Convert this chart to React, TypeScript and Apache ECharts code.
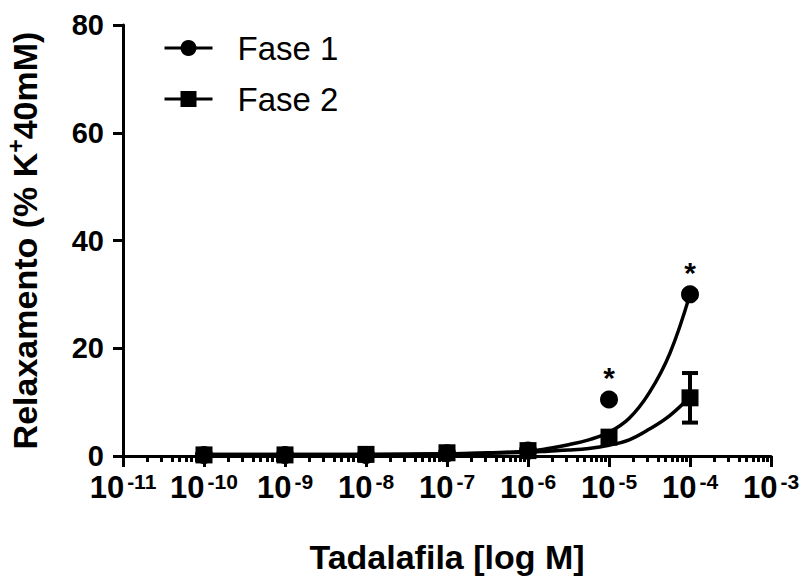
import React, { useEffect, useRef } from "react";
import * as echarts from "echarts";

// log10 of Tadalafila concentration (M)
const doses = [-10, -9, -8, -7, -6, -5, -4];
const fase1Mean = [0.2, 0.2, 0.2, 0.5, 1.0, 10.5, 30.0];
const fase1Sem = [0.2, 0.2, 0.2, 0.3, 0.4, 0.5, 0.5];
const fase2Mean = [0.2, 0.2, 0.3, 0.6, 1.0, 3.5, 10.8];
const fase2Sem = [0.2, 0.2, 0.2, 0.3, 0.4, 0.8, 4.6];
const fase1Stars = [false, false, false, false, false, true, true];

// fitted curves
const curveX = [-10, -9, -8, -7, -6.5, -6, -5.75, -5.5, -5.25, -5, -4.75, -4.5, -4.25, -4];
const fase1Curve = [0.3, 0.3, 0.3, 0.4, 0.6, 0.9, 1.4, 2.1, 3.0, 4.4, 7.0, 11.8, 19.0, 30.0];
const fase2Curve = [0.3, 0.3, 0.3, 0.4, 0.5, 0.7, 0.9, 1.1, 1.4, 2.0, 3.0, 5.0, 7.5, 11.0];

const xMin = -11;
const xMax = -3;
const yTicks = [0, 20, 40, 60, 80];

const minorTicks: number[] = [];
for (let d = xMin; d < xMax; d++) {
  for (let k = 2; k <= 9; k++) minorTicks.push(d + Math.log10(k));
}

const FONT = "Liberation Sans, Arial, sans-serif";

export default function App() {
  const ref = useRef<HTMLDivElement>(null);
  useEffect(() => {
    if (!ref.current) return;
    const chart = echarts.init(ref.current, undefined, { renderer: "svg" });

    const errData = (means: number[], sems: number[]) =>
      doses.map((d, i) => [d, means[i] - sems[i], means[i] + sems[i]]);

    const errRender = (params: any, api: any) => {
      const x = api.value(0);
      const lo = api.coord([x, api.value(1)]);
      const hi = api.coord([x, api.value(2)]);
      const cap = 8;
      const style = { stroke: "#000", lineWidth: 4 };
      return {
        type: "group",
        children: [
          { type: "line", shape: { x1: lo[0], y1: lo[1], x2: hi[0], y2: hi[1] }, style },
          { type: "line", shape: { x1: lo[0] - cap, y1: lo[1], x2: lo[0] + cap, y2: lo[1] }, style },
          { type: "line", shape: { x1: hi[0] - cap, y1: hi[1], x2: hi[0] + cap, y2: hi[1] }, style },
        ],
      };
    };

    chart.setOption({
      animation: false,
      textStyle: { fontFamily: FONT, color: "#000" },
      grid: { left: 123, right: 32, top: 25, bottom: 129, containLabel: false, outerBoundsMode: "none" },
      legend: {
        orient: "vertical",
        left: 158,
        top: 26,
        data: ["Fase 1", "Fase 2"],
        itemWidth: 48,
        itemHeight: 20,
        itemGap: 17,
        lineStyle: { width: 3, color: "#000", opacity: 1 },
        textStyle: { fontFamily: FONT, fontSize: 33, color: "#000", padding: [0, 0, 0, 20], lineHeight: 34 },
      },
      xAxis: [
        {
          type: "value",
          min: xMin,
          max: xMax,
          interval: 1,
          name: "Tadalafila [log M]",
          nameLocation: "middle",
          nameGap: 84,
          nameTextStyle: { fontFamily: FONT, fontSize: 34, fontWeight: "bold", color: "#000" },
          axisLine: { show: true, onZero: false, lineStyle: { color: "#000", width: 3 } },
          axisTick: { show: true, length: 11, lineStyle: { color: "#000", width: 3 } },
          splitLine: { show: false },
          axisLabel: {
            margin: 15,
            formatter: (v: number) => `{b|10}{s|${v}}`,
            rich: {
              b: { fontFamily: FONT, fontSize: 31, fontWeight: "bold", color: "#000", lineHeight: 32 },
              s: { fontFamily: FONT, fontSize: 21, fontWeight: "bold", color: "#000", verticalAlign: "top", lineHeight: 32, padding: [0, 0, 12, 3] },
            },
          },
        },
        {
          type: "value",
          min: xMin,
          max: xMax,
          position: "bottom",
          axisLine: { show: false },
          axisLabel: { show: false },
          splitLine: { show: false },
          axisTick: { show: true, length: 6, customValues: minorTicks, lineStyle: { color: "#000", width: 3 } },
        },
      ],
      yAxis: {
        type: "value",
        min: 0,
        max: 80,
        interval: 20,
        name: "{b|Relaxamento (% K}{s|+}{b|40mM)}",
        nameLocation: "middle",
        nameGap: 78,
        nameRotate: 90,
        nameTextStyle: {
          rich: {
            b: { fontFamily: FONT, fontSize: 34, fontWeight: "bold", color: "#000" },
            s: { fontFamily: FONT, fontSize: 23, fontWeight: "bold", color: "#000", padding: [0, 0, 18, 0] },
          },
        },
        axisLine: { show: true, lineStyle: { color: "#000", width: 3 } },
        axisTick: { show: true, length: 10, lineStyle: { color: "#000", width: 3 } },
        splitLine: { show: false },
        axisLabel: {
          margin: 19,
          fontFamily: FONT,
          fontSize: 29,
          fontWeight: "bold",
          color: "#000",
          customValues: yTicks,
        },
      },
      series: [
        {
          name: "Fase 1 fit",
          type: "line",
          smooth: 0.4,
          showSymbol: false,
          data: curveX.map((x, i) => [x, fase1Curve[i]]),
          lineStyle: { color: "#000", width: 3.5 },
          z: 2,
        },
        {
          name: "Fase 2 fit",
          type: "line",
          smooth: 0.4,
          showSymbol: false,
          data: curveX.map((x, i) => [x, fase2Curve[i]]),
          lineStyle: { color: "#000", width: 3.5 },
          z: 2,
        },
        {
          name: "Fase 1 err",
          type: "custom",
          renderItem: errRender,
          data: errData(fase1Mean, fase1Sem),
          z: 3,
        },
        {
          name: "Fase 2 err",
          type: "custom",
          renderItem: errRender,
          data: errData(fase2Mean, fase2Sem),
          z: 3,
        },
        {
          name: "Fase 1",
          type: "line",
          symbol: "circle",
          symbolSize: 18,
          itemStyle: { color: "#000" },
          lineStyle: { width: 0, color: "#000" },
          data: doses.map((d, i) => ({
            value: [d, fase1Mean[i]],
            label: fase1Stars[i]
              ? { show: true, formatter: "*", position: "top", distance: -2, fontFamily: FONT, fontSize: 30, fontWeight: "bold", color: "#000" }
              : { show: false },
          })),
          z: 4,
        },
        {
          name: "Fase 2",
          type: "line",
          symbol: "rect",
          symbolSize: 17,
          itemStyle: { color: "#000" },
          lineStyle: { width: 0, color: "#000" },
          data: doses.map((d, i) => [d, fase2Mean[i]]),
          z: 4,
        },
      ],
    });
    return () => chart.dispose();
  }, []);

  return <div ref={ref} style={{ width: 803, height: 585, position: "absolute", left: 0, top: 0, background: "#fff" }} />;
}
